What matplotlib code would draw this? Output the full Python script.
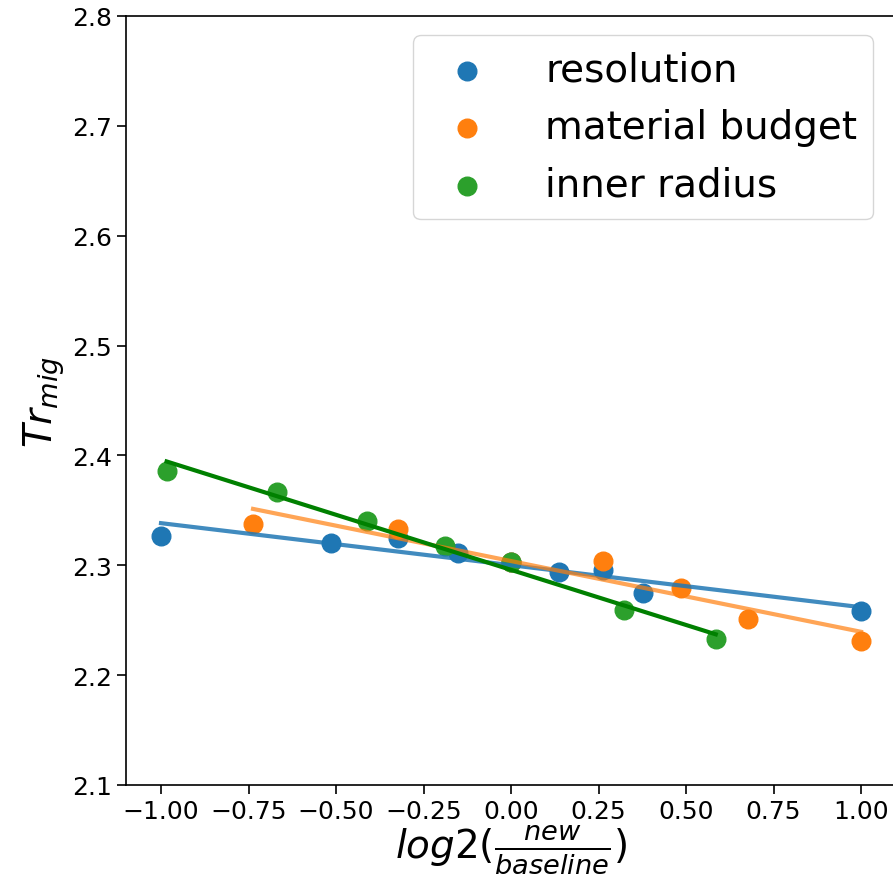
import numpy as np
import matplotlib
matplotlib.use("Agg")
import matplotlib.pyplot as plt

labels = ["resolution", "material budget", "inner radius"]

res_x = [-1.0, -0.515, -0.322, -0.152, 0.0, 0.1375, 0.263, 0.378, 1.0]
res_y = [2.327, 2.320, 2.325, 2.311, 2.303, 2.294, 2.296, 2.275, 2.258]

mat_x = [-0.737, -0.322, 0.0, 0.263, 0.485, 0.678, 1.0]
mat_y = [2.338, 2.333, 2.303, 2.304, 2.279, 2.251, 2.231]

rad_x = [-0.984, -0.669, -0.412, -0.190, 0.0, 0.322, 0.585]
rad_y = [2.386, 2.367, 2.340, 2.318, 2.303, 2.259, 2.233]

series = [(res_x, res_y), (mat_x, mat_y), (rad_x, rad_y)]
point_colors = ["#1f77b4", "#ff7f0e", "#2ca02c"]
line_colors = [("#1f77b4", 0.85), ("#ff7f0e", 0.7), ("green", 1.0)]

fig = plt.figure(figsize=(8.93, 8.95), dpi=100)
ax = fig.add_axes([126/893, 109/895, 770/893, 769/895])

for (x, y), c, lab in zip(series, point_colors, labels):
    ax.scatter(x, y, s=180, color=c, label=lab, zorder=2)

for (x, y), (lc, la) in zip(series, line_colors):
    x = np.array(x); y = np.array(y)
    p = np.polyfit(x, y, 1)
    xs = np.array([x.min(), x.max()])
    ax.plot(xs, np.polyval(p, xs), color=lc, alpha=la, lw=3, zorder=3)

ax.set_xlim(-1.1, 1.1)
ax.set_ylim(2.1, 2.8)
ax.set_xticks(np.arange(-1.0, 1.01, 0.25))
ax.set_yticks(np.arange(2.1, 2.81, 0.1))
ax.tick_params(labelsize=18, length=6.5, width=1.2)
for s in ax.spines.values():
    s.set_linewidth(1.2)

ax.set_ylabel(r"$Tr_{mig}$", fontsize=28, labelpad=4)
ax.set_xlabel(r"$log2(\frac{new}{baseline})$", fontsize=28, labelpad=0)

ax.legend(loc="upper right", fontsize=28, handletextpad=1.0,
          bbox_to_anchor=(0.985, 0.99), borderaxespad=0.3)

fig.savefig("out.png", dpi=100)
